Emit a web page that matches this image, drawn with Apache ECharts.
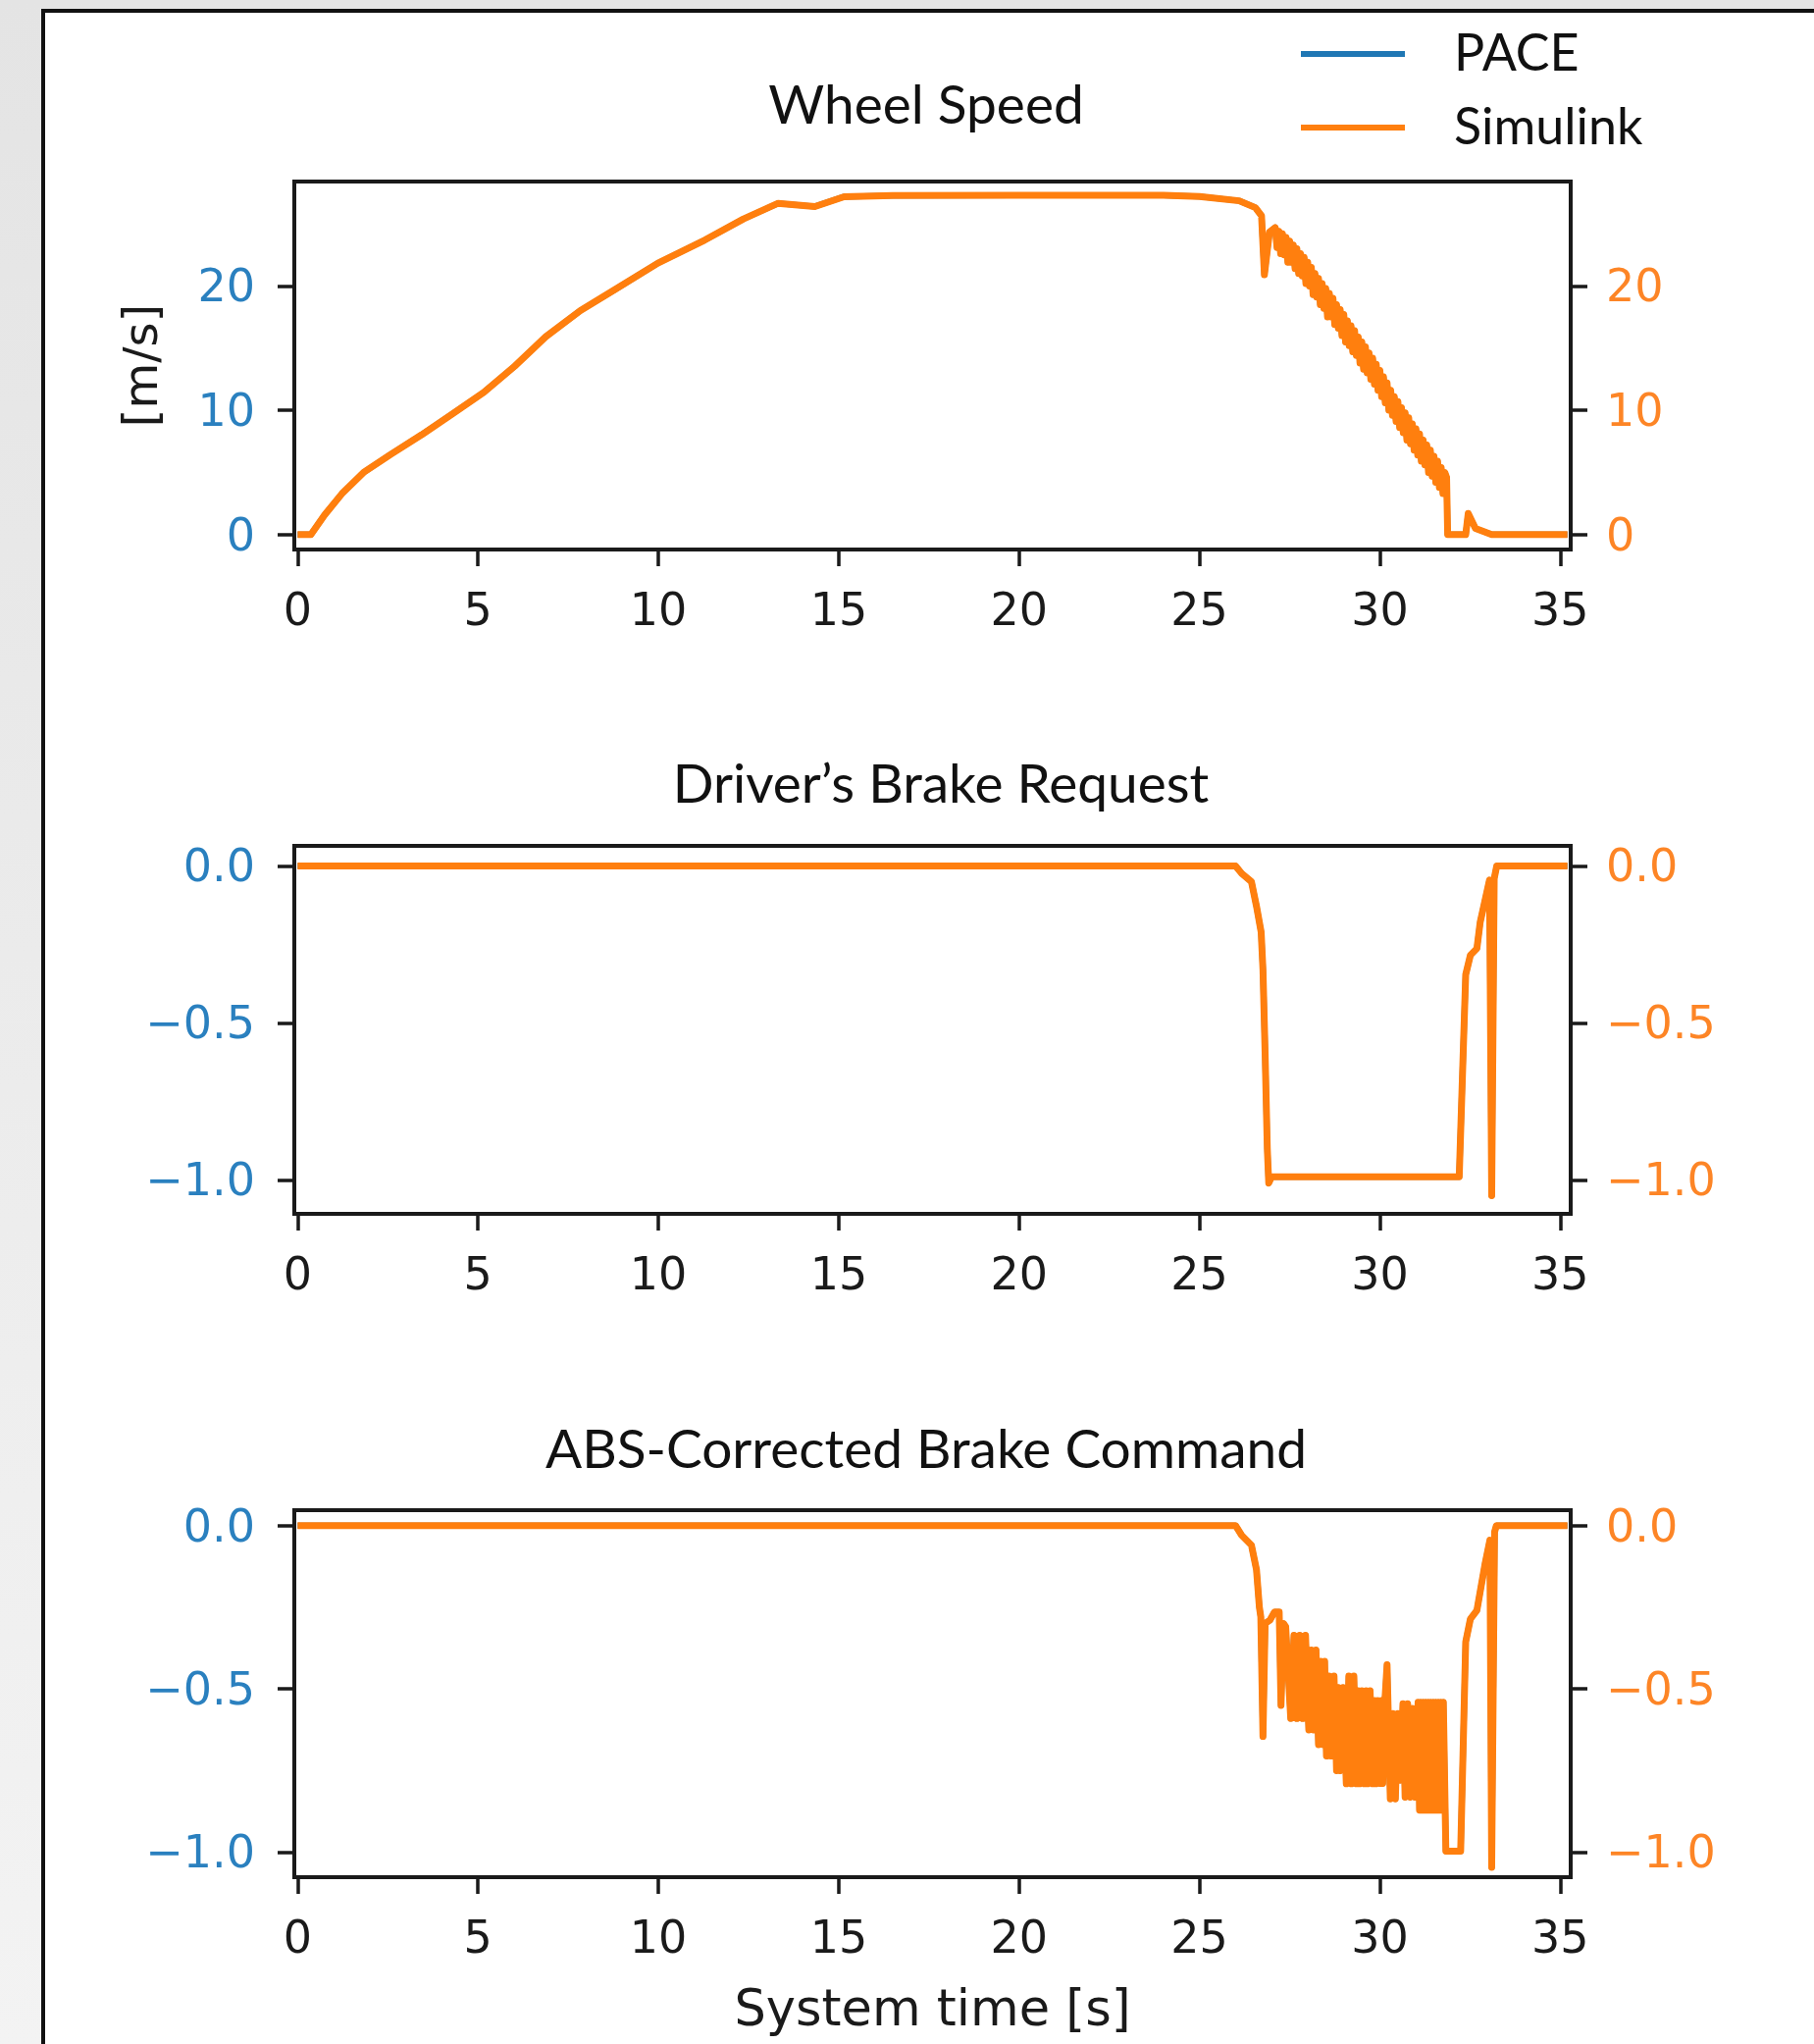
<!DOCTYPE html>
<html>
<head>
<meta charset="utf-8">
<script src="https://cdn.jsdelivr.net/npm/echarts@6/dist/echarts.min.js"></script>
<style>
html,body{margin:0;padding:0;}
#main{width:1849px;height:2083px;}
</style>
</head>
<body>
<div id="main"></div>
<script>
var xTicks = [0, 5, 10, 15, 20, 25, 30, 35];
var speedTicks = [0, 10, 20];
var brakeTicks = [0, -0.5, -1.0];
var seriesNames = ["PACE", "Simulink"];

// wheel speed [m/s]
var speedTime = [0, 0.37, 0.75, 1.23, 1.83, 2.58, 3.44, 4.30, 5.16, 6.02, 6.88, 7.84, 8.81, 9.99,
  11.28, 12.36, 13.32, 14.34, 15.15, 16.5, 20.0, 24.0, 25.0, 26.1, 26.55, 26.72, 26.8, 26.94,
  27.1, 27.15, 27.2, 27.25, 27.3, 27.35, 27.4, 27.45, 27.5, 27.55, 27.6, 27.65, 27.7, 27.75,
  27.8, 27.85, 27.9, 27.95, 28.0, 28.05, 28.1, 28.15, 28.2, 28.25, 28.3, 28.35, 28.4, 28.45,
  28.5, 28.55, 28.6, 28.65, 28.7, 28.75, 28.8, 28.85, 28.9, 28.95, 29.0, 29.05, 29.1, 29.15,
  29.2, 29.25, 29.3, 29.35, 29.4, 29.45, 29.5, 29.55, 29.6, 29.65, 29.7, 29.75, 29.8, 29.85,
  29.9, 29.95, 30.0, 30.05, 30.1, 30.15, 30.2, 30.25, 30.3, 30.35, 30.4, 30.45, 30.5, 30.55,
  30.6, 30.65, 30.7, 30.75, 30.8, 30.85, 30.9, 30.95, 31.0, 31.05, 31.1, 31.15, 31.2, 31.25,
  31.3, 31.35, 31.4, 31.45, 31.5, 31.55, 31.6, 31.65, 31.7, 31.75, 31.8, 31.85,
  31.88, 32.38, 32.45, 32.65, 33.1, 35.2];
var speedValue = [0, 0, 1.58, 3.29, 5.0, 6.45, 8.03, 9.73, 11.44, 13.55, 15.92, 18.02, 19.73, 21.84,
  23.68, 25.39, 26.65, 26.39, 27.18, 27.28, 27.3, 27.3, 27.2, 26.85, 26.3, 25.65, 20.9, 24.33,
  24.7, 23.1, 24.4, 22.6, 24.2, 22.5, 23.9, 21.9, 23.6, 21.9, 23.3, 21.4, 23.0, 21.0,
  22.6, 20.8, 22.3, 20.2, 21.9, 20.0, 21.5, 19.3, 21.0, 19.1, 20.6, 18.5, 20.2, 18.2,
  19.8, 17.5, 19.4, 17.5, 19.0, 16.9, 18.5, 16.6, 18.1, 16.0, 17.7, 15.5, 17.2, 15.2,
  16.8, 14.7, 16.4, 14.4, 15.9, 13.8, 15.5, 13.3, 15.1, 13.0, 14.6, 12.5, 14.2, 12.1,
  13.7, 11.6, 13.2, 11.1, 12.7, 10.6, 12.2, 10.0, 11.6, 9.6, 11.1, 9.1, 10.7, 8.6,
  10.2, 8.2, 9.8, 7.6, 9.4, 7.3, 8.9, 6.8, 8.5, 6.4, 8.1, 5.9, 7.6, 5.6,
  7.2, 5.0, 6.8, 4.7, 6.3, 4.2, 5.9, 3.8, 5.4, 3.3, 5.0, 4.6,
  0, 0, 1.7, 0.5, 0, 0];

// driver's brake request
var requestTime = [0, 26.0, 26.17, 26.44, 26.58, 26.71, 26.76, 26.82, 26.88, 26.92, 27.0, 32.2,
  32.38, 32.51, 32.69, 32.78, 32.92, 33.04, 33.1, 33.17, 33.24, 35.2];
var requestValue = [0, 0, -0.024, -0.05, -0.128, -0.211, -0.33, -0.6, -0.9, -1.01, -0.99, -0.99,
  -0.346, -0.284, -0.263, -0.18, -0.107, -0.045, -1.05, -0.04, 0, 0];

// ABS-corrected brake command
var commandTime = [0, 26.0, 26.17, 26.44, 26.58, 26.66, 26.7, 26.76, 26.82, 26.95, 27.08, 27.21,
  27.26, 27.33, 27.39, 27.53, 27.62, 27.7, 27.78, 27.86, 27.94, 28.03, 28.1, 28.16, 28.23, 28.3,
  28.36, 28.43, 28.47, 28.52, 28.59, 28.66, 28.73, 28.8, 28.85, 28.89, 28.98, 29.07, 29.14,
  29.21, 29.28, 29.35, 29.4, 29.44, 29.5, 29.57, 29.62, 29.66, 29.73, 29.8, 29.85, 29.89, 29.94,
  30.0, 30.04, 30.08, 30.14, 30.2, 30.29, 30.36, 30.43, 30.5, 30.57, 30.64, 30.7, 30.77, 30.84,
  30.9, 30.97, 31.06, 31.1, 31.13, 31.17, 31.2, 31.24, 31.27, 31.31, 31.34, 31.38, 31.41, 31.45,
  31.48, 31.52, 31.55, 31.59, 31.62, 31.66, 31.69, 31.73, 31.76, 31.83, 32.24, 32.38,
  32.51, 32.69, 32.92, 33.05, 33.1, 33.18, 33.23, 35.2];
var commandValue = [0, 0, -0.03, -0.06, -0.135, -0.25, -0.28, -0.646, -0.30, -0.29, -0.265, -0.265,
  -0.551, -0.30, -0.31, -0.591, -0.336, -0.591, -0.336, -0.591, -0.336, -0.626, -0.381, -0.626, -0.381, -0.671,
  -0.416, -0.671, -0.416, -0.706, -0.461, -0.706, -0.461, -0.751, -0.496, -0.751, -0.496, -0.791, -0.461,
  -0.791, -0.461, -0.791, -0.506, -0.791, -0.506, -0.791, -0.506, -0.791, -0.506, -0.791, -0.536, -0.791, -0.536,
  -0.79, -0.536, -0.79, -0.536, -0.426, -0.837, -0.576, -0.837, -0.576, -0.78, -0.546, -0.832, -0.546, -0.832,
  -0.56, -0.832, -0.541, -0.872, -0.541, -0.872, -0.541, -0.872, -0.541, -0.872, -0.541, -0.872, -0.541, -0.872,
  -0.541, -0.872, -0.541, -0.872, -0.541, -0.872, -0.541, -0.872, -0.541, -0.997, -0.997, -0.356,
  -0.286, -0.26, -0.115, -0.045, -1.047, -0.02, 0, 0];

// PACE and Simulink lie on top of each other in the picture
var paceSpeed = speedValue, paceRequest = requestValue, paceCommand = commandValue;

var blue = "#1f77b4";
var orange = "#ff7f0e";
var blueText = "#2a80bf";
var orangeText = "#fd8526";
var ink = "#1a1a1a";

var chart = echarts.init(document.getElementById("main"));

function pairs(ts, vs){
  var out = [];
  for(var i = 0, l = ts.length; i < l; i++){
    out.push([ts[i], vs[i]]);
  }
  return out;
}

function brakeLabel(v){
  if(v == 0) return "0.0";
  return "\u2212" + Math.abs(v).toFixed(1);
}

function makeGrid(top, height){
  return {left:300, width:1301, top:top, height:height, show:true,
    backgroundColor:"#fff", borderColor:ink, borderWidth:4};
}

function makeXAxis(idx){
  return {
    type:"value", gridIndex:idx, position:"bottom", min:-0.09, max:35.29,
    axisLine:{show:false, onZero:false}, splitLine:{show:false},
    axisTick:{customValues:xTicks, length:17, lineStyle:{color:ink, width:3.5}},
    axisLabel:{customValues:xTicks, margin:42, fontFamily:"DejaVu Sans", fontSize:46, color:ink}
  };
}

// digits sit a little above the em middle, so pin the label top just under the tick
function makeYAxis(idx, side, min, max, ticks, fmt){
  return {
    type:"value", gridIndex:idx, position:side, min:min, max:max,
    axisLine:{show:false, onZero:false}, splitLine:{show:false},
    axisTick:{customValues:ticks, length:17, lineStyle:{color:ink, width:3.5}},
    axisLabel:{customValues:ticks, margin:side == "left" ? 40 : 36, fontFamily:"DejaVu Sans",
      fontSize:46, lineHeight:8, verticalAlign:"top",
      color:side == "left" ? blueText : orangeText, formatter:fmt}
  };
}

function makeLine(name, idx, data, color, width){
  return {
    name:name, type:"line", xAxisIndex:idx, yAxisIndex:idx * 2,
    data:data, showSymbol:false, animation:false,
    lineStyle:{color:color, width:width, join:"round"}, itemStyle:{color:color}
  };
}

var xAxes = [makeXAxis(0), makeXAxis(1), makeXAxis(2)];
xAxes[2].name = "System time [s]";
xAxes[2].nameLocation = "middle";
xAxes[2].nameGap = 112;
xAxes[2].nameTextStyle = {fontFamily:"DejaVu Sans", fontSize:51, color:ink};

var intFmt = function(v){ return String(v); };
var yAxes = [
  makeYAxis(0, "left", -1.2, 28.4, speedTicks, intFmt),
  makeYAxis(0, "right", -1.2, 28.4, speedTicks, intFmt),
  makeYAxis(1, "left", -1.108, 0.064, brakeTicks, brakeLabel),
  makeYAxis(1, "right", -1.108, 0.064, brakeTicks, brakeLabel),
  makeYAxis(2, "left", -1.077, 0.047, brakeTicks, brakeLabel),
  makeYAxis(2, "right", -1.077, 0.047, brakeTicks, brakeLabel)
];
yAxes[0].name = "[m/s]";
yAxes[0].nameLocation = "middle";
yAxes[0].nameRotate = 90;
yAxes[0].nameGap = 128;
yAxes[0].nameTextStyle = {fontFamily:"DejaVu Sans", fontSize:48, color:ink};

function titleText(text, x, y){
  return {type:"text", x:x, y:y, silent:true,
    style:{text:text, fontFamily:"Lato", fontSize:55, fill:"#111", align:"center", verticalAlign:"middle"}};
}

var options = {
  backgroundColor:{type:"linear", x:0, y:0, x2:0, y2:1,
    colorStops:[{offset:0, color:"#e4e4e4"}, {offset:1, color:"#f3f3f3"}]},
  animation:false,
  graphic:[
    {type:"rect", z:-10, silent:true, shape:{x:44, y:11, width:1900, height:2200},
      style:{fill:"#fff", stroke:"#111", lineWidth:4}},
    titleText("Wheel Speed", 944, 108),
    titleText("Driver\u2019s Brake Request", 959, 800),
    titleText("ABS-Corrected Brake Command", 944, 1478)
  ],
  legend:{
    orient:"vertical", left:1321, top:24, itemWidth:106, itemHeight:6, itemGap:23,
    icon:"rect", data:seriesNames,
    textStyle:{fontFamily:"Lato", fontSize:52, lineHeight:52, color:"#111", padding:[0, 0, 0, 45]}
  },
  grid:[makeGrid(185, 375), makeGrid(862, 375), makeGrid(1539, 374)],
  xAxis:xAxes,
  yAxis:yAxes,
  series:[
    makeLine("PACE", 0, pairs(speedTime, paceSpeed), blue, 6),
    makeLine("Simulink", 0, pairs(speedTime, speedValue), orange, 7),
    makeLine("PACE", 1, pairs(requestTime, paceRequest), blue, 6),
    makeLine("Simulink", 1, pairs(requestTime, requestValue), orange, 7),
    makeLine("PACE", 2, pairs(commandTime, paceCommand), blue, 6),
    makeLine("Simulink", 2, pairs(commandTime, commandValue), orange, 7)
  ]
};

chart.setOption(options);
</script>
</body>
</html>
